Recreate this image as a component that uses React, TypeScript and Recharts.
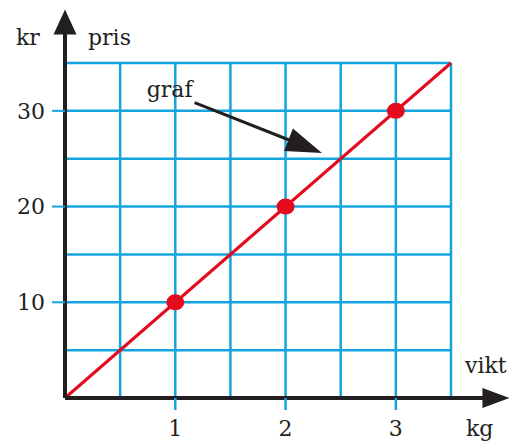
import React from 'react';
import {
  ComposedChart, Line, Scatter, XAxis, YAxis, CartesianGrid, ReferenceLine, Label,
} from 'recharts';

// line through the origin, and the three marked points
const lineKg = [0, 3.5];
const lineKr = [0, 35];
const pointKg = [1, 2, 3];
const pointKr = [10, 20, 30];

const xTicks = [0, 0.5, 1, 1.5, 2, 2.5, 3, 3.5];
const yTicks = [0, 5, 10, 15, 20, 25, 30, 35];
const xLabelled = [1, 2, 3];
const yLabelled = [10, 20, 30];

// arrow pointing at the graph (start -> tip), data units
const grafArrow = [{ x: 1.175, y: 30.85 }, { x: 2.33, y: 25.6 }];

const BLUE = '#14a4de';
const RED = '#e30b1c';
const INK = '#231f20';
const FONT = '"DejaVu Serif", serif';

const lineData = lineKg.map((kg, i) => ({ kg, kr: lineKr[i] }));
const pointData = pointKg.map((kg, i) => ({ kg, kr: pointKr[i] }));

const XTick = (props: any) => {
  const { x, y, payload } = props;
  if (!xLabelled.includes(payload.value)) return <g />;
  return (
    <g>
      <line x1={x} x2={x} y1={y} y2={y + 12} stroke={BLUE} strokeWidth={2.5} />
      <text x={x} y={y + 38} textAnchor="middle" fill={INK} fontSize={22} fontFamily={FONT}>
        {payload.value}
      </text>
    </g>
  );
};

const YTick = (props: any) => {
  const { x, y, payload } = props;
  if (!yLabelled.includes(payload.value)) return <g />;
  return (
    <g>
      <line x1={x - 13} x2={x} y1={y} y2={y} stroke={BLUE} strokeWidth={2} />
      <text x={x - 20} y={y} dy="0.36em" textAnchor="end" fill={INK} fontSize={22} fontFamily={FONT}>
        {payload.value}
      </text>
    </g>
  );
};

// straight line with a filled arrowhead at its end
const Arrow = (head: number, half: number, width: number, caption?: string) => (props: any) => {
  const { x1, y1, x2, y2 } = props;
  const dx = x2 - x1;
  const dy = y2 - y1;
  const len = Math.sqrt(dx * dx + dy * dy) || 1;
  const ux = dx / len;
  const uy = dy / len;
  const bx = x2 - ux * head;
  const by = y2 - uy * head;
  const pts = `${x2},${y2} ${bx - uy * half},${by + ux * half} ${bx + uy * half},${by - ux * half}`;
  return (
    <g>
      <line x1={x1} y1={y1} x2={bx + ux * 2} y2={by + uy * 2} stroke={INK} strokeWidth={width} />
      <polygon points={pts} fill={INK} />
      {caption && (
        <text x={x1 - 2} y={y1 - 6} textAnchor="end" fill={INK} fontSize={22} fontFamily={FONT}>
          {caption}
        </text>
      )}
    </g>
  );
};

const YNames = (props: any) => {
  const { x, y, width } = props.viewBox;
  const ax = x + width;
  return (
    <g fill={INK} fontSize={22} fontFamily={FONT}>
      <text x={ax - 49} y={y - 18}>kr</text>
      <text x={ax + 23} y={y - 18}>pris</text>
    </g>
  );
};

const XNames = (props: any) => {
  const { x, y, width } = props.viewBox;
  const ax = x + width;
  return (
    <g fill={INK} fontSize={22} fontFamily={FONT}>
      <text x={ax + 14} y={y - 25}>vikt</text>
      <text x={ax + 15} y={y + 38}>kg</text>
    </g>
  );
};

const Dot = (props: any) => {
  const { cx, cy } = props;
  return <ellipse cx={cx} cy={cy} rx={9} ry={8} fill={RED} />;
};

export default function App() {
  return (
    <div style={{ position: 'absolute', left: 0, top: 0, width: 510, height: 441, background: '#fff', overflow: 'hidden' }}>
      <ComposedChart width={510} height={441} margin={{ top: 63, right: 59, left: 0, bottom: 0 }}>
        <CartesianGrid stroke={BLUE} strokeWidth={2.5} />
        <XAxis
          type="number"
          dataKey="kg"
          domain={[0, 3.5]}
          ticks={xTicks}
          interval={0}
          height={43}
          tickSize={0}
          tickMargin={0}
          axisLine={false}
          tickLine={false}
          tick={<XTick />}
        >
          <Label content={<XNames />} />
        </XAxis>
        <YAxis
          type="number"
          dataKey="kr"
          domain={[0, 35]}
          ticks={yTicks}
          interval={0}
          width={65}
          tickSize={0}
          tickMargin={0}
          axisLine={false}
          tickLine={false}
          tick={<YTick />}
        >
          <Label content={<YNames />} />
        </YAxis>
        <Line
          data={lineData}
          dataKey="kr"
          stroke={RED}
          strokeWidth={3}
          dot={false}
          activeDot={false}
          isAnimationActive={false}
        />
        <ReferenceLine
          segment={[{ x: 0, y: 0 }, { x: 4.03, y: 0 }]}
          ifOverflow="visible"
          shape={Arrow(27, 10, 4)}
        />
        <ReferenceLine
          segment={[{ x: 0, y: 0 }, { x: 0, y: 40.6 }]}
          ifOverflow="visible"
          shape={Arrow(25, 11.5, 4)}
        />
        <ReferenceLine segment={grafArrow} ifOverflow="visible" shape={Arrow(36, 12, 3, 'graf')} />
        <Scatter data={pointData} dataKey="kr" shape={<Dot />} isAnimationActive={false} />
      </ComposedChart>
    </div>
  );
}
